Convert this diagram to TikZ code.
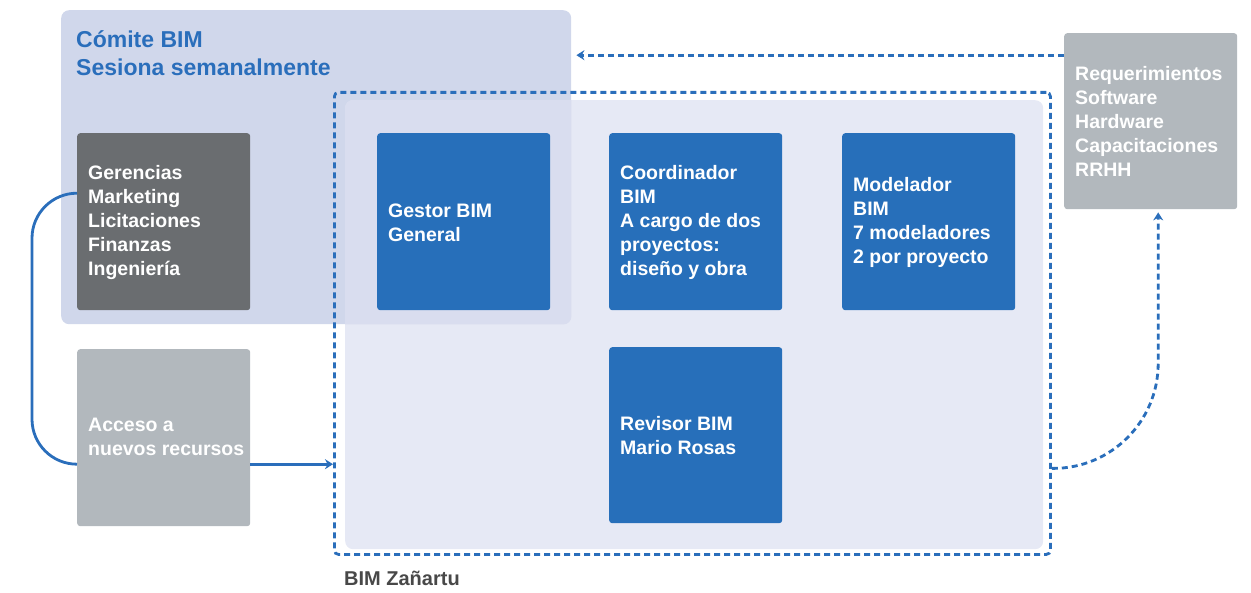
\documentclass[tikz,border=0pt]{standalone}
\usepackage{fontspec}
\setmainfont{Liberation Sans}
\usetikzlibrary{arrows.meta}
\definecolor{comitefill}{RGB}{208,215,235}
\definecolor{panelfill}{RGB}{230,233,245}
\definecolor{overlapfill}{RGB}{217,221,239}
\definecolor{bimblue}{RGB}{39,111,186}
\definecolor{linkblue}{RGB}{42,110,187}
\definecolor{darkgrey}{RGB}{106,109,112}
\definecolor{lightgrey}{RGB}{178,184,189}
\definecolor{labelgrey}{RGB}{72,72,72}
\begin{document}
\begin{tikzpicture}[x=1pt,y=-1pt,
  box/.style={rectangle, rounded corners=3pt, minimum width=173pt, minimum height=177pt, anchor=north west, inner sep=0pt},
  bluebox/.style={box, fill=bimblue},
  txt/.style={anchor=west, align=left, text=white, font=\fontsize{19.5}{24}\selectfont\bfseries, inner sep=0pt},
  link/.style={draw=linkblue, line width=2.8pt},
  dlink/.style={link, dash pattern=on 6pt off 4pt},
  tip/.style={-{Stealth[length=8pt,width=10pt]}}
]
\useasboundingbox (0,0) rectangle (1251,593);
% panels
\node[fill=comitefill, rounded corners=8pt, minimum width=510pt, minimum height=314pt, anchor=north west, inner sep=0pt] (comite) at (61,10) {};
\node[fill=panelfill, rounded corners=8pt, minimum width=698pt, minimum height=449pt, anchor=north west, inner sep=0pt] (panel) at (345,100) {};
\begin{scope}
\clip[rounded corners=8pt] (comite.north west) rectangle (comite.south east);
\fill[overlapfill, rounded corners=8pt] (panel.north west) rectangle (panel.south east);
\end{scope}
\node[anchor=west, align=left, text=linkblue, font=\fontsize{23}{28.5}\selectfont\bfseries, inner sep=0pt] (title) at (76,53) {Cómite BIM\\Sesiona semanalmente};
% boxes
\node[box, fill=darkgrey] (ger) at (77,133) {};
\node[txt] (gertxt) at ([xshift=11pt,yshift=-1pt]ger.west) {Gerencias\\Marketing\\Licitaciones\\Finanzas\\Ingeniería};
\node[bluebox] (gestor) at (377,133) {};
\node[txt] (gestortxt) at ([xshift=11pt,yshift=-1pt]gestor.west) {Gestor BIM\\General};
\node[bluebox] (coord) at (609,133) {};
\node[txt] (coordtxt) at ([xshift=11pt,yshift=-1pt]coord.west) {Coordinador\\BIM\\A cargo de dos\\proyectos:\\diseño y obra};
\node[bluebox] (model) at (842,133) {};
\node[txt] (modeltxt) at ([xshift=11pt,yshift=-1pt]model.west) {Modelador\\BIM\\7 modeladores\\2 por proyecto};
\node[bluebox, minimum height=176pt] (revisor) at (609,347) {};
\node[txt] (revisortxt) at ([xshift=11pt]revisor.west) {Revisor BIM\\Mario Rosas};
\node[box, fill=lightgrey] (acceso) at (77,349) {};
\node[txt] (accesotxt) at ([xshift=11pt,yshift=1pt]acceso.west) {Acceso a\\nuevos recursos};
\node[box, fill=lightgrey, minimum height=176pt] (req) at (1064,33) {};
\node[txt] (reqtxt) at ([xshift=11pt]req.west) {Requerimientos\\Software\\Hardware\\Capacitaciones\\RRHH};
% dashed frame
\node[dlink, rounded corners=4pt, minimum width=716pt, minimum height=462pt, anchor=north west, inner sep=0pt] (frame) at (333,91) {};
\node[anchor=base west, text=labelgrey, font=\fontsize{20}{24}\selectfont\bfseries, inner sep=0pt] (zanartu) at (344,585) {BIM Zañartu};
% connectors
\coordinate (g1) at ([yshift=28.5pt]ger.west);
\coordinate (a0) at ([yshift=-26.5pt]acceso.west);
\coordinate (a1) at ([yshift=-26.5pt]acceso.east);
\draw[link, rounded corners=45pt] (g1) -- ++(-45,0) |- (a0);
\draw[link, tip] (a1) -- (a1 -| frame.west);
\coordinate (r1) at ([yshift=66pt]req.west);
\draw[dlink, tip, shorten >=5pt] (r1) -- (r1 -| comite.east);
\coordinate (f1) at ([yshift=-145pt]frame.east);
\coordinate (r2) at ([xshift=7.5pt]req.south);
\draw[dlink, tip, rounded corners=105pt, shorten >=3pt] (f1) -| (r2);
\end{tikzpicture}
\end{document}
